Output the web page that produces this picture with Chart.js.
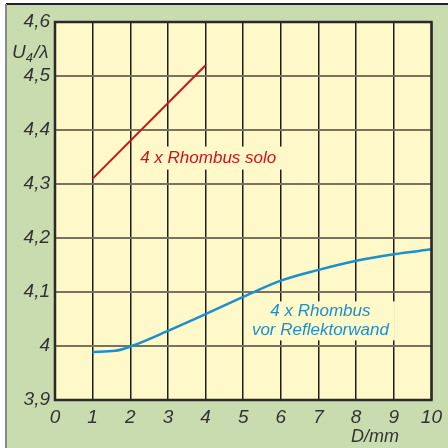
<!DOCTYPE html>
<html><head><meta charset="utf-8">
<script src="https://cdn.jsdelivr.net/npm/chart.js@4/dist/chart.umd.min.js"></script>
<style>html,body{margin:0;padding:0;background:#fff}canvas{display:block}</style>
</head><body>
<div style="width:448px;height:448px"><canvas id="c" width="448" height="448"></canvas></div>
<script>
// Data
const soloD = [1, 4];
const soloU = [4.31, 4.52];
const wallD = [1, 1.6, 2, 3, 4, 5, 6, 7, 8, 9, 10];
const wallU = [3.989, 3.991, 3.999, 4.028, 4.059, 4.091, 4.121, 4.141, 4.158, 4.170, 4.179];
const xTickValues = [0, 1, 2, 3, 4, 5, 6, 7, 8, 9, 10];
const yTickValues = [3.9, 4.0, 4.1, 4.2, 4.3, 4.4, 4.5, 4.6];
const soloLabel = ["4 x Rhombus solo"];
const wallLabel = ["4 x Rhombus", "vor Reflektorwand"];
const xTitle = "D/mm";

const FONT = '"Liberation Sans", Arial, sans-serif';
const GREEN = '#c9dcb0', YELLOW = '#fff8c8';
const RED = '#d0121e', BLUE = '#1b8fcf';

const bgPlugin = {
  id: 'bg',
  beforeDraw(chart) {
    const ctx = chart.ctx, a = chart.chartArea;
    ctx.save();
    ctx.fillStyle = '#fff'; ctx.fillRect(0, 0, 448, 448);
    ctx.fillStyle = GREEN; ctx.fillRect(6, 4, 442, 444);
    ctx.fillStyle = '#222'; ctx.fillRect(6, 3, 442, 2);
    ctx.fillStyle = '#8a8a8a'; ctx.fillRect(5, 4, 2, 444);
    ctx.fillStyle = YELLOW; ctx.fillRect(a.left, a.top, a.right - a.left, a.bottom - a.top);
    ctx.restore();
  },
  afterDatasetsDraw(chart) {
    const ctx = chart.ctx, a = chart.chartArea;
    const xs = chart.scales.x, ys = chart.scales.y;
    ctx.save();
    // plot frame
    ctx.strokeStyle = '#2a2a2a'; ctx.lineWidth = 2.5;
    ctx.strokeRect(a.left, a.top, a.right - a.left, a.bottom - a.top);
    // annotations
    ctx.font = 'italic 17px ' + FONT;
    ctx.textAlign = 'center'; ctx.textBaseline = 'middle';
    function label(lines, xv, yv, color, lh) {
      const cx = xs.getPixelForValue(xv), cy = ys.getPixelForValue(yv);
      let w = 0; lines.forEach(l => w = Math.max(w, ctx.measureText(l).width));
      const h = lh * lines.length;
      ctx.fillStyle = YELLOW;
      ctx.fillRect(cx - w / 2 - 6, cy - h / 2 - 1, w + 12, h + 2);
      ctx.fillStyle = color;
      lines.forEach((l, i) => ctx.fillText(l, cx, cy - h / 2 + lh * (i + 0.5)));
    }
    label(soloLabel, 4.07, 4.348, RED, 21);
    label(wallLabel, 7.05, 4.0465, BLUE, 18.5);
    // y-axis title with subscript
    ctx.fillStyle = '#333'; ctx.textAlign = 'left'; ctx.textBaseline = 'alphabetic';
    ctx.font = 'italic 19px ' + FONT;
    let x = 12, y = 58;
    ctx.fillText('U', x, y); x += ctx.measureText('U').width;
    ctx.font = 'italic 13px ' + FONT;
    ctx.fillText('4', x, y + 4); x += ctx.measureText('4').width + 1;
    ctx.font = 'italic 19px ' + FONT;
    ctx.fillText('/\u03bb', x, y);
    // x-axis title
    ctx.textAlign = 'center';
    ctx.font = 'italic 18px ' + FONT;
    ctx.fillText(xTitle, xs.getPixelForValue(8.5), 442);
    ctx.restore();
  }
};

const fmt = v => Number(v.toFixed(1)).toString().replace('.', ',');

new Chart(document.getElementById('c'), {
  type: 'line',
  data: {
    datasets: [
      { data: soloD.map((d, i) => ({ x: d, y: soloU[i] })), borderColor: RED, borderWidth: 2, pointRadius: 0, tension: 0 },
      { data: wallD.map((d, i) => ({ x: d, y: wallU[i] })), borderColor: BLUE, borderWidth: 2.5, pointRadius: 0, cubicInterpolationMode: 'monotone' }
    ]
  },
  options: {
    responsive: false, animation: false, devicePixelRatio: 1,
    layout: { padding: { top: 22, right: 15, left: 0, bottom: 0 } },
    plugins: { legend: { display: false }, tooltip: { enabled: false } },
    scales: {
      x: {
        type: 'linear', min: 0, max: 10,
        afterBuildTicks: s => { s.ticks = xTickValues.map(v => ({ value: v })); },
        afterFit: s => { s.height = 48; },
        grid: { color: '#1e1e1e', lineWidth: 1.5, drawTicks: false },
        border: { display: false },
        ticks: { color: '#333', padding: 6, font: { family: FONT, size: 19, style: 'italic' }, callback: v => String(v) }
      },
      y: {
        type: 'linear', min: 3.9, max: 4.6,
        afterBuildTicks: s => { s.ticks = yTickValues.map(v => ({ value: v })); },
        afterFit: s => { s.width = 55; },
        grid: { color: '#77735e', lineWidth: 2, drawTicks: false },
        border: { display: false },
        ticks: { color: '#333', padding: 5, font: { family: FONT, size: 19, style: 'italic' }, callback: v => fmt(v) }
      }
    }
  },
  plugins: [bgPlugin]
});
</script>
</body></html>
